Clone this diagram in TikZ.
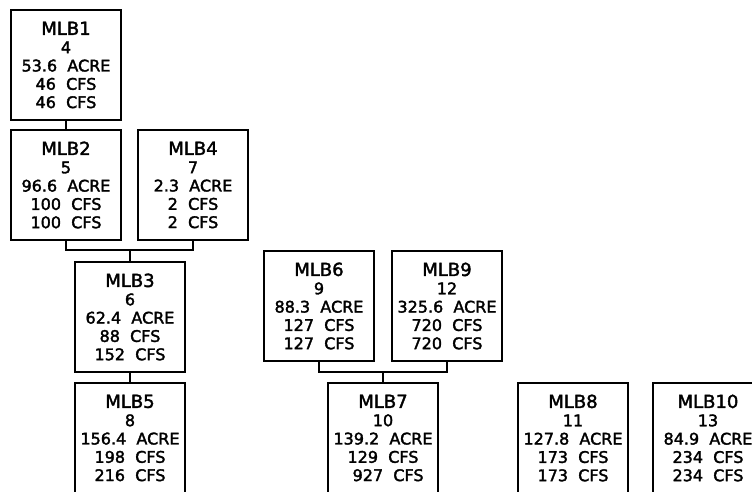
\documentclass[tikz,border=0pt]{standalone}
\usepackage{fontspec}
\setmainfont[FakeBold=2]{DejaVu Sans}
\newcommand\ttl[1]{{\fontsize{18}{18.3}\selectfont #1}}
\tikzset{
  basin/.style={draw=black, line width=1.6pt, minimum width=110pt, minimum height=110pt,
    inner sep=0pt, align=center, font=\fontsize{16}{18.3}\selectfont},
  link/.style={draw=black, line width=1.6pt}
}
\begin{document}
\begin{tikzpicture}[x=1pt,y=-1pt]
\useasboundingbox (0,0) rectangle (752,491);
\fill[white] (0,0) rectangle (752,491);
\clip (0,0) rectangle (752,491);
\node[basin] (b1) at (66,65) {\ttl{MLB1}\\4\\53.6~~ACRE\\46~~CFS\\46~~CFS};
\node[basin] (b2) at (66,185) {\ttl{MLB2}\\5\\96.6~~ACRE\\100~~CFS\\100~~CFS};
\node[basin] (b4) at (193,185) {\ttl{MLB4}\\7\\2.3~~ACRE\\2~~CFS\\2~~CFS};
\node[basin] (b3) at (130,317) {\ttl{MLB3}\\6\\62.4~~ACRE\\88~~CFS\\152~~CFS};
\node[basin] (b5) at (130,438) {\ttl{MLB5}\\8\\156.4~~ACRE\\198~~CFS\\216~~CFS};
\node[basin] (b6) at (319,306) {\ttl{MLB6}\\9\\88.3~~ACRE\\127~~CFS\\127~~CFS};
\node[basin] (b9) at (447,306) {\ttl{MLB9}\\12\\325.6~~ACRE\\720~~CFS\\720~~CFS};
\node[basin] (b7) at (383,438) {\ttl{MLB7}\\10\\139.2~~ACRE\\129~~CFS\\\phantom{0}927~~CFS};
\node[basin] (b8) at (573,438) {\ttl{MLB8}\\11\\127.8~~ACRE\\173~~CFS\\173~~CFS};
\node[basin] (b10) at (708,438) {\ttl{MLB10}\\13\\84.9~~ACRE\\234~~CFS\\234~~CFS};
\coordinate (j1) at (130,250);
\coordinate (j2) at (383,372);
\draw[link] (b1.south) -- (b2.north);
\draw[link] (b2.south) |- (j1) -| (b4.south);
\draw[link] (j1) -- (b3.north);
\draw[link] (b3.south) -- (b5.north);
\draw[link] (b6.south) |- (j2) -| (b9.south);
\draw[link] (j2) -- (b7.north);
\end{tikzpicture}
\end{document}
